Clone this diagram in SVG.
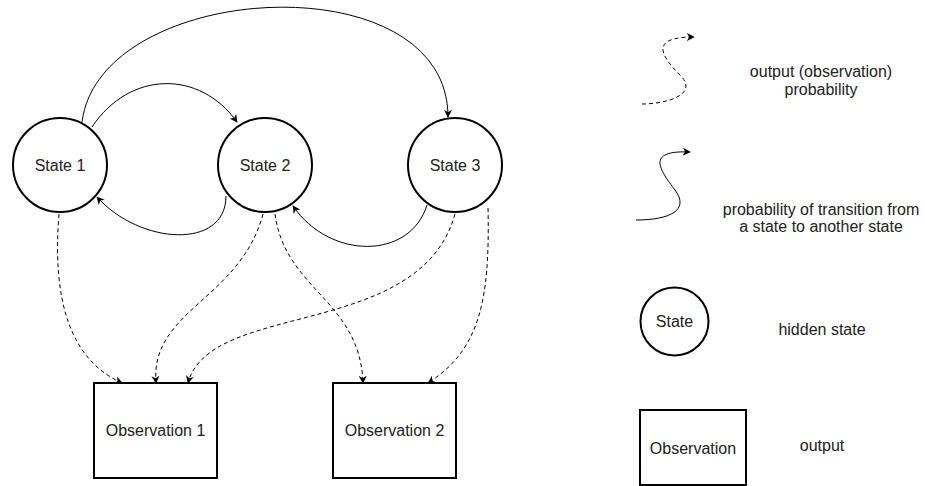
<svg xmlns="http://www.w3.org/2000/svg" width="925" height="486" viewBox="0 0 925 486">
<defs>
<marker id="arr" viewBox="0 0 10 10" refX="9" refY="5" markerWidth="8" markerHeight="8" markerUnits="userSpaceOnUse" orient="auto">
<path d="M0,0 L10,5 L0,10 L3,5 z" fill="#000"/>
</marker>
<style>
.node{fill:#fff;stroke:#000;stroke-width:2}
.t{font-family:"Liberation Sans",Arial,sans-serif;font-size:16px;fill:#222;text-anchor:middle}
.e{fill:none;stroke:#000;stroke-width:1;marker-end:url(#arr)}
.d{stroke-dasharray:4,3}
</style>
</defs>
<rect width="925" height="486" fill="#fff"/>
<g id="connectors">
<path class="e" d="M82,122 C100,-20 448,-40 448,117"/>
<path class="e" d="M92,127 C130,70 200,70 237,122"/>
<path class="e" d="M226,196 C226,250 140,245 97,197"/>
<path class="e" d="M427,205 C410,260 330,260 293,206"/>
<path class="e d" d="M59,214 C52,300 70,360 122,383"/>
<path class="e d" d="M263,214 C240,300 150,310 156,383"/>
<path class="e d" d="M455,214 C420,340 210,300 188,383"/>
<path class="e d" d="M275,214 C285,290 360,300 363,383"/>
<path class="e d" d="M488,208 C490,300 480,350 428,383"/>
</g>
<g id="state1"><circle class="node" cx="60" cy="165" r="47"/><text class="t" x="60" y="171">State 1</text></g>
<g id="state2"><circle class="node" cx="265" cy="165" r="47"/><text class="t" x="265" y="171">State 2</text></g>
<g id="state3"><circle class="node" cx="455" cy="165" r="47"/><text class="t" x="455" y="171">State 3</text></g>
<g id="obs1"><rect class="node" x="94" y="383" width="123" height="95"/><text class="t" x="155.5" y="436">Observation 1</text></g>
<g id="obs2"><rect class="node" x="333" y="383" width="123" height="95"/><text class="t" x="394.5" y="436">Observation 2</text></g>
<g id="legend">
<path class="e d" d="M642,104 C665,104 700,95 680,75 C660,55 650,37 694,37"/>
<text class="t" x="821" y="77">output (observation)</text>
<text class="t" x="821" y="95">probability</text>
<path class="e" d="M636,220 C670,220 690,210 675,190 C660,170 645,150 690,152"/>
<text class="t" x="821" y="215">probability of transition from</text>
<text class="t" x="821" y="232">a state to another state</text>
<g id="legend-state"><circle class="node" cx="674.5" cy="321.5" r="34"/><text class="t" x="674.5" y="327">State</text></g>
<text class="t" x="822" y="335">hidden state</text>
<g id="legend-obs"><rect class="node" x="640" y="410" width="106" height="75"/><text class="t" x="693" y="454">Observation</text></g>
<text class="t" x="822" y="451">output</text>
</g>
</svg>
